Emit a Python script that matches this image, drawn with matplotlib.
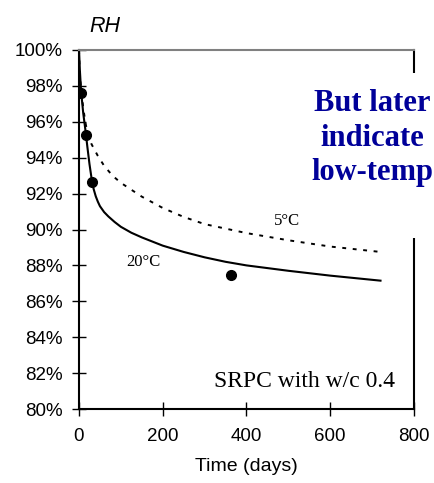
import numpy as np
import matplotlib.pyplot as plt
from matplotlib.patches import Rectangle

# 20 C model curve (days, RH %)
t_20 = [0, 2, 5, 10, 15, 20, 25, 30, 35, 40, 45, 50, 60, 70, 85, 100, 125, 150, 200,
        250, 300, 350, 400, 500, 600, 720]
rh_20 = [100, 98.9, 97.7, 96.5, 95.6, 94.6, 93.65, 92.85, 92.25, 91.85, 91.55, 91.3,
         90.97, 90.73, 90.42, 90.15, 89.82, 89.56, 89.1, 88.75, 88.45, 88.2, 88.0,
         87.7, 87.43, 87.15]

# 5 C model curve
t_5 = [0, 2, 5, 10, 15, 20, 30, 45, 60, 80, 100, 150, 200, 250, 300, 400, 500, 600, 720]
rh_5 = [100, 98.6, 97.8, 96.8, 96.0, 95.4, 94.75, 94.1, 93.55, 93.0, 92.6, 91.83, 91.2,
        90.7, 90.3, 89.8, 89.4, 89.05, 88.75]

# measured points
t_meas = [5, 16, 30, 363]
rh_meas = [97.6, 95.27, 92.66, 87.47]

x_ticks = [0, 200, 400, 600, 800]
y_ticks = [80, 82, 84, 86, 88, 90, 92, 94, 96, 98, 100]

fig = plt.figure(figsize=(4.35, 4.83), dpi=100)
ax = fig.add_axes([79 / 435, 74 / 483, 335 / 435, 359 / 483])

ax.plot(t_5, rh_5, color='black', lw=1.4, ls=(0, (2, 3.4)))
ax.plot(t_20, rh_20, color='black', lw=1.5)
ax.plot(t_meas, rh_meas, 'o', color='black', ms=7)

ax.set_xlim(0, 800)
ax.set_ylim(80, 100)
ax.set_xticks(x_ticks)
ax.set_yticks(y_ticks)
ax.set_yticklabels(['{:d}%'.format(v) for v in y_ticks])
ax.tick_params(direction='inout', length=9.5, width=1, labelsize=13.5, colors='black')
ax.tick_params(axis='y', pad=7)
ax.tick_params(axis='x', pad=9)
for lab in ax.get_xticklabels() + ax.get_yticklabels():
    lab.set_family('Liberation Sans')

for s in ['left', 'bottom', 'right']:
    ax.spines[s].set_linewidth(1.5)
    ax.spines[s].set_color('black')
ax.spines['top'].set_color('#808080')
ax.spines['top'].set_linewidth(1.5)

ax.set_xlabel('Time (days)', fontsize=14, family='Liberation Sans', labelpad=9)
fig.text(105 / 435, 1 - 26 / 483, 'RH', fontsize=15.5, style='italic',
         family='Liberation Sans', ha='center', va='center')

ax.text(153, 88.2, '20\u00b0C', fontsize=12, family='Liberation Serif', ha='center', va='center')
ax.text(496, 90.49, '5\u00b0C', fontsize=12, family='Liberation Serif', ha='center', va='center')
ax.text(755, 81.2, 'SRPC with w/c 0.4', fontsize=17, family='Liberation Serif',
        ha='right', va='baseline')

# white box hiding part of the right spine, with the overlay text on top
fig.patches.append(Rectangle((310 / 435, 1 - 238 / 483), 125 / 435, 165 / 483,
                             transform=fig.transFigure, facecolor='white',
                             edgecolor='none', zorder=5))
fig.text(372 / 435, 1 - 138 / 483, 'But later\nindicate\nlow-temp', fontsize=22,
         family='Liberation Serif', weight='bold', color='#000099',
         ha='center', va='center', multialignment='center', linespacing=1.23, zorder=6)

fig.savefig('out.png', dpi=100)
